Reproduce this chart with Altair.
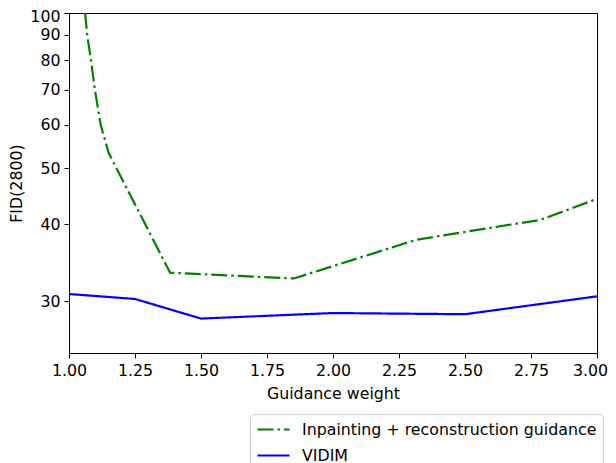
import altair as alt
import pandas as pd

# Series names (legend order)
series_names = ["Inpainting + reconstruction guidance", "VIDIM"]

# Inpainting + reconstruction guidance (green, dash-dot)
green_w = [1.061, 1.069, 1.083, 1.098, 1.12, 1.15, 1.383, 1.852, 2.316, 2.786, 3.0]
green_fid = [100, 90, 80, 70, 60, 53.3, 33.3, 32.6, 37.7, 40.7, 44.2]

# VIDIM (blue, solid)
blue_w = [1.0, 1.25, 1.5, 2.0, 2.5, 3.0]
blue_fid = [30.8, 30.25, 28.2, 28.76, 28.64, 30.54]

# Tick values
x_ticks = [1.0, 1.25, 1.5, 1.75, 2.0, 2.25, 2.5, 2.75, 3.0]
y_ticks = [30, 40, 50, 60, 70, 80, 90, 100]

rows = []
for w, f in zip(green_w, green_fid):
    rows.append({"w": w, "fid": f, "series": series_names[0]})
for w, f in zip(blue_w, blue_fid):
    rows.append({"w": w, "fid": f, "series": series_names[1]})
df = pd.DataFrame(rows)

FONT = "DejaVu Sans"
FS = 15.8

chart = alt.Chart(df).mark_line(strokeWidth=2.2, clip=True).encode(
    x=alt.X("w:Q",
            scale=alt.Scale(domain=[1.0, 3.0], nice=False, zero=False),
            axis=alt.Axis(values=x_ticks, format=".2f", title="Guidance weight",
                          labelFlush=False, labelPadding=5, titlePadding=9,
                          labelOffset={"condition": {"test": "datum.value >= 2.9", "value": -7},
                                       "value": 0})),
    y=alt.Y("fid:Q",
            scale=alt.Scale(type="pow", exponent=-0.25, domain=[25, 100],
                            nice=False, zero=False),
            axis=alt.Axis(values=y_ticks, format="d", title="FID(2800)",
                          labelPadding=4, titlePadding=5, labelFlush=False,
                          labelOffset={"condition": {"test": "datum.value >= 99", "value": 3},
                                       "value": 0})),
    color=alt.Color("series:N",
                    scale=alt.Scale(domain=series_names, range=["#008000", "#0000ff"]),
                    legend=alt.Legend(title=None)),
    strokeDash=alt.StrokeDash("series:N",
                              scale=alt.Scale(domain=series_names,
                                              range=[[16, 4, 2.5, 4], [1, 0]]),
                              legend=alt.Legend(title=None)),
).properties(
    width=528,
    height=340,
    autosize=alt.AutoSizeParams(type="none"),
    padding={"left": 61, "top": 5, "right": 11, "bottom": 110},
).configure_view(
    stroke="black", strokeWidth=1
).configure_axis(
    grid=False,
    domainColor="black",
    domainWidth=1,
    tickColor="black",
    tickSize=5,
    tickWidth=1,
    labelFont=FONT,
    labelFontSize=FS,
    labelColor="black",
    titleFont=FONT,
    titleFontSize=FS,
    titleFontWeight="normal",
    titleColor="black",
).configure_legend(
    orient="none",
    legendX=181,
    legendY=401,
    strokeColor="#cccccc",
    cornerRadius=4,
    padding=6,
    fillColor="white",
    labelFont=FONT,
    labelFontSize=FS,
    labelColor="black",
    labelLimit=0,
    symbolType="M-2,0L2,0",
    symbolSize=256,
    symbolStrokeWidth=2.2,
    symbolOffset=8,
    labelOffset=19,
    rowPadding=8,
)

chart.save("out.html", embed_options={"renderer": "svg", "actions": False})
